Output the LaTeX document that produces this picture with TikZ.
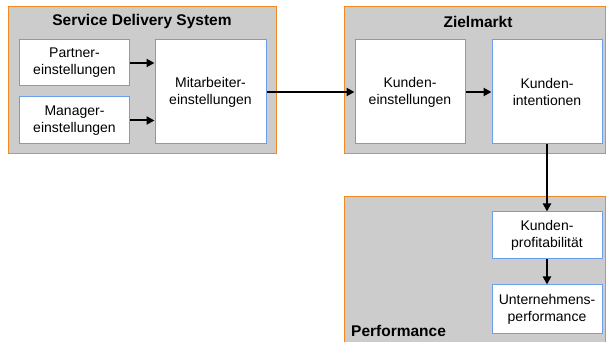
\documentclass[tikz,border=0pt]{standalone}
\usepackage{fontspec}
\setmainfont{Liberation Sans}
\usetikzlibrary{arrows.meta}
\definecolor{groupgray}{HTML}{CCCCCC}
\definecolor{grouporange}{HTML}{F08A24}
\definecolor{boxblue}{HTML}{6D9EEB}
\tikzset{
  box/.style={draw=boxblue, line width=1pt, fill=white, align=center,
    inner sep=0pt, font=\fontsize{14}{17}\selectfont},
  grouptitle/.style={font=\fontsize{15.5}{18}\selectfont\bfseries, inner sep=0pt},
  groupframe/.style={draw=grouporange, line width=1pt},
  arr/.style={line width=2pt, -{Triangle[length=8pt,width=8pt]}}
}
\begin{document}
\begin{tikzpicture}[x=1pt,y=-1pt]
\useasboundingbox (0,0) rectangle (606,342);

% group panels
\fill[groupgray] (8,7) rectangle (276,154);
\draw[groupframe] (8,7) rectangle (276,154);
\fill[groupgray] (344,7) rectangle (605,154);
\draw[groupframe] (344,7) rectangle (605,154);
\fill[groupgray] (344,197) rectangle (605,342);
\draw[groupframe] (344,342) -- (344,197) -- (605,197) -- (605,342);

% panel titles
\node[grouptitle] (sdstitle) at (142,21.5) {Service Delivery System};
\node[grouptitle] (zmtitle) at (478,21.5) {Zielmarkt};
\node[grouptitle, anchor=west] (perftitle) at (351,331) {Performance};

% service delivery system
\node[box, minimum width=110pt, minimum height=46pt] (partner) at (74.5,63) {Partner-\\einstellungen};
\node[box, minimum width=110pt, minimum height=47pt] (manager) at (74.5,120.5) {Manager-\\einstellungen};
\node[box, minimum width=111pt, minimum height=104pt] (mitarb) at (210.5,92) {Mitarbeiter-\\einstellungen};

% target market
\node[box, minimum width=110pt, minimum height=104pt] (kundeinst) at (410,92) {Kunden-\\einstellungen};
\node[box, minimum width=110pt, minimum height=104pt] (kundint) at (547,92) {Kunden-\\intentionen};

% performance
\node[box, minimum width=110pt, minimum height=47pt] (profit) at (547,235.5) {Kunden-\\profitabilität};
\node[box, minimum width=110pt, minimum height=48pt] (untern) at (547,309) {Unternehmens-\\performance};

% connectors
\draw[arr] (partner.east) -- (mitarb.west |- partner.east);
\draw[arr] (manager.east) -- (mitarb.west |- manager.east);
\draw[arr] (mitarb.east) -- (kundeinst.west);
\draw[arr] (kundeinst.east) -- (kundint.west);
\draw[arr] (kundint.south) -- (profit.north);
\draw[arr] (profit.south) -- (untern.north);
\end{tikzpicture}
\end{document}
